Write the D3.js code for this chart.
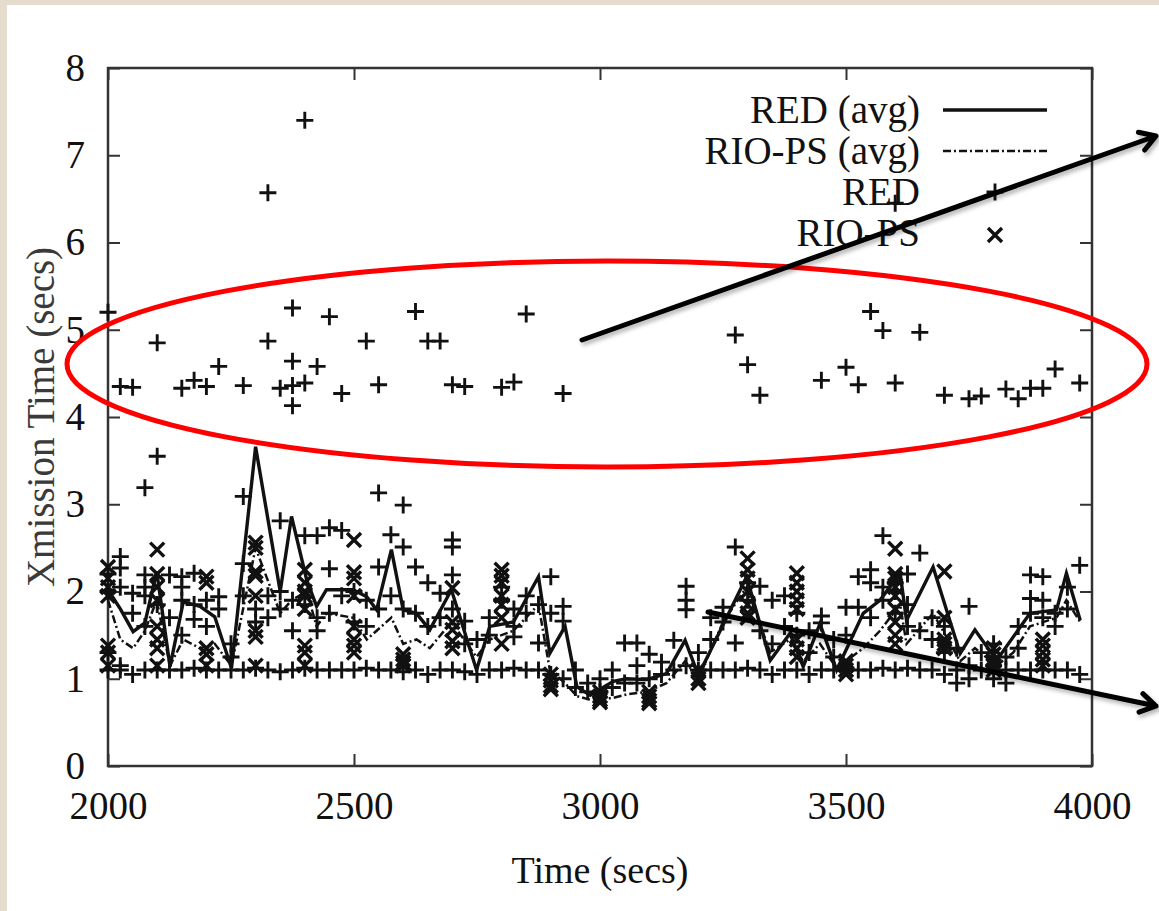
<!DOCTYPE html>
<html>
<head>
<meta charset="utf-8">
<script src="https://cdn.jsdelivr.net/npm/d3@7"></script>
<style>
  html, body { margin: 0; padding: 0; background: #e6dccd; }
  svg { display: block; }
</style>
</head>
<body>
<svg id="chart" width="1159" height="911"></svg>
<script>
// ---------------- data ----------------
const xTicks = [2000, 2500, 3000, 3500, 4000];
const yTicks = [0, 1, 2, 3, 4, 5, 6, 7, 8];
const legendLabels = ["RED (avg)", "RIO-PS (avg)", "RED", "RIO-PS"];
const xTitle = "Time (secs)";
const yTitle = "Xmission Time (secs)";

// RED (avg) solid line
const redAvgTime  = [2000,2025,2051,2075,2099,2126,2153,2187,2217,2251,2300,2350,2373,2404,2424,2444,2498,2526,2546,2576,2600,2627,2654,2698,2749,2776,2824,2875,2898,2929,2953,2980,3027,3054,3095,3135,3173,3200,3298,3346,3386,3413,3447,3481,3535,3569,3610,3623,3677,3732,3762,3806,3840,3874,3928,3948,3976];
const redAvgValue = [2.02,1.80,1.54,1.64,2.23,1.14,1.88,1.83,1.71,1.12,3.66,2.00,2.86,2.13,1.83,2.02,2.02,1.94,1.79,2.48,1.79,1.75,1.56,2.02,1.10,1.60,1.65,2.17,1.29,1.60,0.91,0.81,0.97,1.00,0.99,1.06,1.44,1.04,2.17,1.21,1.52,1.14,1.63,1.10,1.75,1.90,2.21,1.67,2.28,1.29,1.56,1.21,1.48,1.75,1.79,2.21,1.67];

// RIO-PS (avg) dash-dot line
const rioAvgTime  = [2000,2025,2051,2075,2099,2126,2153,2187,2217,2251,2300,2350,2373,2404,2424,2444,2498,2526,2546,2576,2600,2627,2654,2698,2749,2776,2824,2875,2898,2929,2953,2980,3027,3054,3095,3135,3173,3200,3250,3298,3346,3386,3413,3447,3481,3535,3569,3610,3623,3677,3732,3762,3806,3840,3874,3928,3948,3976];
const rioAvgValue = [1.90,1.45,1.35,1.55,1.90,1.15,1.45,1.35,1.40,1.15,2.50,1.75,1.90,2.00,1.60,1.75,1.70,1.45,1.55,1.70,1.40,1.45,1.35,1.65,1.25,1.45,1.55,1.85,1.10,0.95,0.80,0.76,0.78,0.82,0.85,0.95,1.20,1.00,1.65,2.05,1.30,1.45,1.20,1.40,1.12,1.35,1.55,1.85,1.40,1.75,1.20,1.35,1.15,1.30,1.60,1.70,1.90,1.65];

// RED samples (+), grouped by time
const redColumns = [
  [2000,[1.10,1.30,2.00,2.20,5.20]],[2025,[1.10,1.15,2.05,2.27,2.40,4.35]],[2050,[1.05,1.75,1.98,4.34]],
  [2075,[1.10,1.60,1.95,2.05,2.19,3.19]],[2100,[1.10,1.85,3.55,4.85]],[2125,[1.10,1.70,2.19]],
  [2150,[1.10,1.50,1.90,2.05,2.17,4.33]],[2175,[1.12,1.68,1.85,2.21,4.42]],[2200,[1.10,1.60,1.90,4.35]],
  [2225,[1.10,1.80,1.94,4.58]],[2250,[1.10,1.25,1.40]],[2275,[1.10,1.95,2.32,3.09,4.36]],
  [2300,[1.12,1.65,1.80]],[2325,[1.10,1.70,1.95,4.87,6.57]],[2350,[1.08,1.80,2.00,2.81,4.33]],
  [2375,[1.10,1.55,1.90,5.25,4.64,4.36,4.13]],[2400,[1.12,1.85,2.64,4.39,7.40]],[2425,[1.10,1.55,1.70,2.64,4.58]],
  [2450,[1.10,1.75,2.26,2.73,5.15]],[2475,[1.10,1.95,2.70,4.27]],[2500,[1.10,1.65,2.00]],
  [2525,[1.12,1.60,1.90,4.87]],[2550,[1.10,1.80,2.28,3.13,4.37]],[2575,[1.10,1.95,2.65]],
  [2600,[1.08,1.80,2.51,2.99]],[2625,[1.10,1.75,2.28,5.21]],[2650,[1.05,1.60,2.10,4.87]],
  [2675,[1.10,1.70,1.98,4.87]],[2700,[1.10,1.80,2.19,2.51,2.59,4.37]],[2725,[1.08,1.40,1.66,4.35]],
  [2750,[1.05,1.45]],[2775,[1.10,1.50,1.70]],[2800,[1.10,1.90,2.05,4.34]],
  [2825,[1.12,1.48,1.60,1.80,4.40]],[2850,[1.10,1.75,1.95,5.18]],[2875,[1.10,1.41,1.85]],
  [2900,[1.05,1.75,2.17]],[2925,[1.00,1.66,1.83,4.27]],[2950,[0.90,1.10]],
  [2975,[0.85,0.95]],[3000,[0.85,1.00]],[3025,[0.90,1.10]],[3050,[0.95,1.41]],
  [3075,[0.95,1.15,1.41]],[3100,[1.00,1.28]],[3125,[1.05,1.19]],[3150,[1.10,1.44]],
  [3175,[1.15,1.79,1.90,2.06]],[3200,[1.10,1.30]],[3225,[1.10,1.45,1.70]],[3250,[1.10,1.65,1.82]],
  [3275,[1.10,1.41,2.51,4.94]],[3300,[1.12,1.90,2.10,4.60]],[3325,[1.10,1.55,2.06,4.25]],
  [3350,[1.05,1.40,1.90]],[3375,[1.10,1.60,1.95]],[3400,[1.10,1.50,1.75]],[3425,[1.05,1.30,1.55]],
  [3450,[1.10,1.64,1.72,4.42]],[3475,[1.10,1.25,1.45]],[3500,[1.12,1.50,1.82,4.57]],
  [3525,[1.10,1.82,2.17,4.37]],[3550,[1.10,1.70,2.10,2.25,5.21]],[3575,[1.12,1.90,2.05,2.64,4.99]],
  [3600,[1.10,1.75,2.00,2.10,4.39,6.45]],[3625,[1.12,1.60,1.85,2.20]],[3650,[1.10,1.55,2.44,4.97]],
  [3675,[1.10,1.45,1.70]],[3700,[1.05,1.30,1.60,4.25]],[3725,[0.95,1.10,1.35]],
  [3750,[1.00,1.15,1.83,4.21]],[3775,[1.10,1.30,4.24]],[3800,[1.00,1.15,1.40]],
  [3825,[0.95,1.10,1.25,4.32]],[3850,[1.10,1.35,1.60,4.21]],[3875,[1.10,1.75,1.92,2.19,4.33]],
  [3900,[1.10,1.70,1.90,2.17,4.33]],[3925,[1.10,1.60,1.75,4.55]],[3950,[1.10,1.80,2.05]],
  [3975,[1.05,2.30,4.39]]
];

// RIO-PS samples (x), grouped by time
const rioColumns = [
  [2000,[2.28,2.15,2.05,1.95,1.38,1.30,1.15]],
  [2100,[2.48,2.20,2.05,1.90,1.60,1.45,1.35,1.15]],
  [2200,[2.17,2.10,1.35,1.28,1.15]],
  [2300,[2.56,2.50,2.23,2.18,1.95,1.55,1.48,1.15]],
  [2400,[2.25,2.10,2.00,1.95,1.80,1.38,1.30,1.15]],
  [2500,[2.59,2.22,2.15,1.95,1.60,1.45,1.38,1.30]],
  [2600,[1.28,1.22,1.18,1.15]],
  [2700,[2.04,1.65,1.56,1.43,1.35]],
  [2800,[2.25,2.18,2.10,1.95,1.85,1.70,1.40]],
  [2900,[1.05,0.98,0.92,0.88]],
  [3000,[0.85,0.80,0.76,0.73]],
  [3100,[0.85,0.80,0.75,0.72]],
  [3200,[1.10,1.00,0.95]],
  [3300,[2.38,2.25,2.15,2.00,1.85,1.75,1.70]],
  [3400,[2.21,2.10,2.00,1.90,1.80,1.45,1.35,1.25]],
  [3500,[1.20,1.15,1.10,1.05]],
  [3600,[2.49,2.20,2.15,2.05,1.95,1.80,1.65,1.50,1.40]],
  [3700,[2.23,1.70,1.45,1.40,1.35]],
  [3800,[1.35,1.28,1.20,1.15,1.10]],
  [3900,[1.45,1.38,1.30,1.22,1.15]]
];

// ---------------- drawing ----------------
const svg = d3.select("#chart");
const W = 1159, H = 911;
const L = 108, R = 1092, T = 68, B = 766;
const ink = "#111";
const font = "'Liberation Serif', 'Times New Roman', serif";

const x = d3.scaleLinear().domain([2000, 4000]).range([L, R]);
const y = d3.scaleLinear().domain([0, 8]).range([B, T]);

const defs = svg.append("defs");
const sh = defs.append("filter").attr("id", "shadow").attr("x", "-10%").attr("y", "-50%").attr("width", "120%").attr("height", "200%");
sh.append("feDropShadow").attr("dx", 2).attr("dy", 3).attr("stdDeviation", 2).attr("flood-color", "#000").attr("flood-opacity", 0.3);

// background card
svg.append("rect").attr("x", 0).attr("y", 0).attr("width", W).attr("height", H).attr("fill", "#e6dccd");
svg.append("rect").attr("x", 7).attr("y", 5).attr("width", W - 7).attr("height", H - 5).attr("fill", "#ffffff");

const g = svg.append("g");

// axes (inward ticks)
function styleAxis(sel) {
  sel.select(".domain").remove();
  sel.selectAll(".tick line").attr("stroke", "#333").attr("stroke-width", 2);
  sel.selectAll(".tick text").attr("fill", ink).style("font-family", font).style("font-size", "39px");
}
g.append("g").attr("transform", `translate(0,${B})`)
  .call(d3.axisBottom(x).tickValues(xTicks).tickSize(-12).tickPadding(25).tickFormat(d3.format("d")))
  .call(styleAxis);
g.append("g").attr("transform", `translate(0,${T})`)
  .call(d3.axisTop(x).tickValues(xTicks).tickSize(-12).tickFormat(""))
  .call(styleAxis);
g.append("g").attr("transform", `translate(${L},0)`)
  .call(d3.axisLeft(y).tickValues(yTicks).tickSize(-12).tickPadding(23).tickFormat(d3.format("d")))
  .call(styleAxis);
g.append("g").attr("transform", `translate(${R},0)`)
  .call(d3.axisRight(y).tickValues(yTicks).tickSize(-12).tickFormat(""))
  .call(styleAxis);

// border
g.append("rect").attr("x", L).attr("y", T).attr("width", R - L).attr("height", B - T)
  .attr("fill", "none").attr("stroke", "#333").attr("stroke-width", 2.5);

// axis titles
g.append("text").attr("x", (L + R) / 2).attr("y", 883).attr("text-anchor", "middle")
  .style("font-family", font).style("font-size", "38px").attr("fill", ink).text(xTitle);
g.append("text").attr("transform", `translate(54,417) rotate(-90)`).attr("text-anchor", "middle")
  .style("font-family", font).style("font-size", "39px").attr("fill", "#3a3a3a").text(yTitle);

// markers
const plusPath = "M-8.5,0H8.5M0,-8.5V8.5";
const crossPath = "M-7,-7L7,7M-7,7L7,-7";

const redPts = redColumns.flatMap(([t, vs]) => vs.map(v => ({ t, v })));
const rioPts = rioColumns.flatMap(([t, vs]) => vs.map(v => ({ t, v })));

const data = g.append("g");
const redLine = d3.line().x((d, i) => x(redAvgTime[i])).y(d => y(d));
const rioLine = d3.line().x((d, i) => x(rioAvgTime[i])).y(d => y(d));

data.append("path").attr("d", rioLine(rioAvgValue)).attr("fill", "none").attr("stroke", ink)
  .attr("stroke-width", 2.5).attr("stroke-dasharray", "8,3,2,3");

data.selectAll(".red").data(redPts).join("path").attr("class", "red")
  .attr("transform", d => `translate(${x(d.t)},${y(d.v)})`).attr("d", plusPath)
  .attr("stroke", ink).attr("stroke-width", 2.9).attr("fill", "none");
data.selectAll(".rio").data(rioPts).join("path").attr("class", "rio")
  .attr("transform", d => `translate(${x(d.t)},${y(d.v)})`).attr("d", crossPath)
  .attr("stroke", ink).attr("stroke-width", 3.4).attr("fill", "none");

data.append("path").attr("d", redLine(redAvgValue)).attr("fill", "none").attr("stroke", ink)
  .attr("stroke-width", 3.4).attr("stroke-linejoin", "miter");

// legend
const legX = 920, sampleX0 = 943, sampleX1 = 1047, legRows = [110, 151, 192, 233];
const leg = g.append("g");
legendLabels.forEach((lab, i) => {
  leg.append("text").attr("x", legX).attr("y", legRows[i]).attr("dy", "0.34em").attr("text-anchor", "end")
    .style("font-family", font).style("font-size", "39px").attr("fill", ink).text(lab);
});
leg.append("line").attr("x1", sampleX0).attr("x2", sampleX1).attr("y1", legRows[0]).attr("y2", legRows[0])
  .attr("stroke", ink).attr("stroke-width", 3.4);
leg.append("line").attr("x1", sampleX0).attr("x2", sampleX1).attr("y1", legRows[1]).attr("y2", legRows[1])
  .attr("stroke", ink).attr("stroke-width", 2.5).attr("stroke-dasharray", "8,3,2,3");
leg.append("path").attr("transform", `translate(${(sampleX0 + sampleX1) / 2},${legRows[2]})`).attr("d", plusPath)
  .attr("stroke", ink).attr("stroke-width", 2.9);
leg.append("path").attr("transform", `translate(${(sampleX0 + sampleX1) / 2},${legRows[3] + 2})`).attr("d", crossPath)
  .attr("stroke", ink).attr("stroke-width", 3.4);

// annotation: red ellipse
svg.append("ellipse").attr("cx", 607).attr("cy", 364).attr("rx", 540).attr("ry", 103)
  .attr("fill", "none").attr("stroke", "#ff0000").attr("stroke-width", 5);

// annotation arrows
function arrow(x1, y1, x2, y2) {
  const a = Math.atan2(y2 - y1, x2 - x1), len = 18, spread = 0.55;
  const p = d3.path();
  p.moveTo(x1, y1); p.lineTo(x2, y2);
  p.moveTo(x2 - len * Math.cos(a - spread), y2 - len * Math.sin(a - spread));
  p.lineTo(x2, y2);
  p.lineTo(x2 - len * Math.cos(a + spread), y2 - len * Math.sin(a + spread));
  svg.append("path").attr("d", p.toString()).attr("fill", "none").attr("stroke", "#000")
    .attr("stroke-width", 5).attr("stroke-linecap", "round").attr("stroke-linejoin", "round")
    .attr("filter", "url(#shadow)");
}
arrow(582, 340, 1156, 136);
arrow(708, 612, 1156, 706);
</script>
</body>
</html>
